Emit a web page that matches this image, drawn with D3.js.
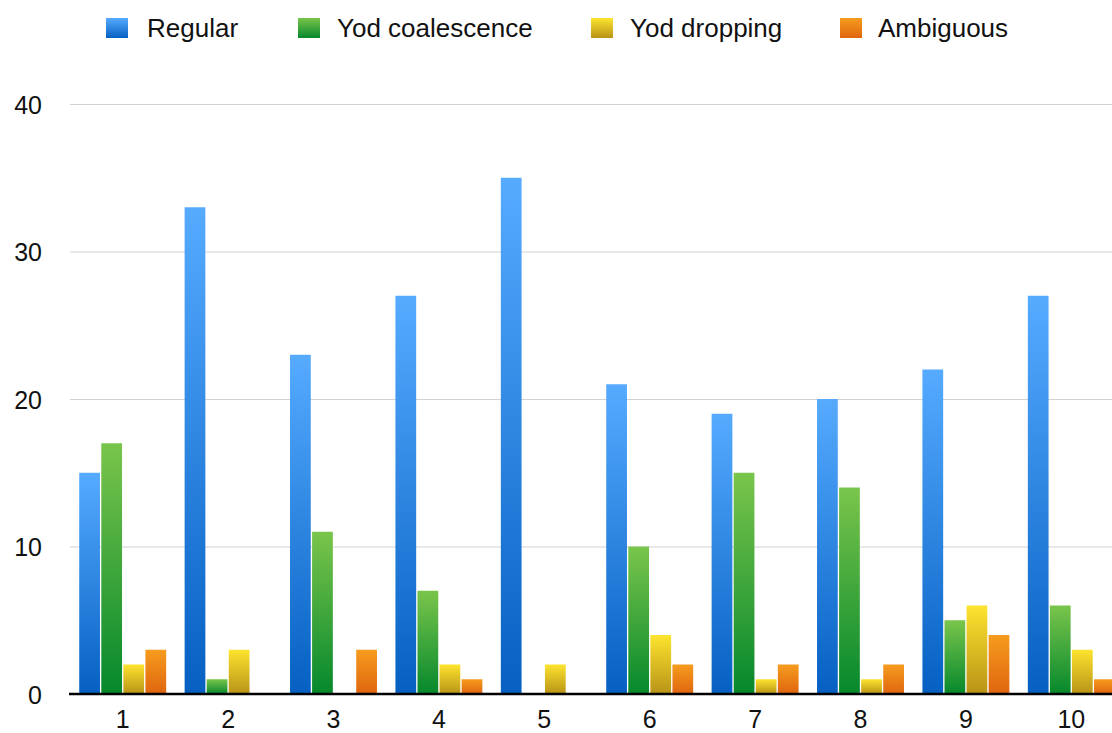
<!DOCTYPE html>
<html>
<head>
<meta charset="utf-8">
<script src="https://cdn.jsdelivr.net/npm/d3@7"></script>
<style>
  html, body { margin: 0; padding: 0; background: #fff; }
  svg { display: block; font-family: "Liberation Sans", Arial, Helvetica, sans-serif; }
</style>
</head>
<body>
<svg id="chart" width="1112" height="733"></svg>
<script>
// Word groups 1–10 and the count of each pronunciation type
const categories = ["1", "2", "3", "4", "5", "6", "7", "8", "9", "10"];
const seriesNames = ["Regular", "Yod coalescence", "Yod dropping", "Ambiguous"];
const regular        = [15, 33, 23, 27, 35, 21, 19, 20, 22, 27];
const yodCoalescence = [17, 1, 11, 7, 0, 10, 15, 14, 5, 6];
const yodDropping    = [2, 3, 0, 2, 2, 4, 1, 1, 6, 3];
const ambiguous      = [3, 0, 3, 1, 0, 2, 2, 2, 4, 1];
const yTicks = [0, 10, 20, 30, 40];

const seriesValues = [regular, yodCoalescence, yodDropping, ambiguous];
// top / bottom colours of each series' vertical gradient
const gradients = [
  ["#56abff", "#0560c2"],
  ["#7ac54b", "#05882c"],
  ["#fde42f", "#b89317"],
  ["#f69c1e", "#df650f"]
];

const svg = d3.select("#chart");
const margin = { left: 70, right: -12, top: 104, bottom: 39 };
const W = 1112, H = 733;

const x0 = d3.scaleBand()
  .domain(categories)
  .range([margin.left, W - margin.right])
  .paddingInner(0.175)
  .paddingOuter(0.0875);
const x1 = d3.scaleBand()
  .domain(seriesNames)
  .range([0, x0.bandwidth()])
  .paddingInner(0.06);
const y = d3.scaleLinear()
  .domain([0, 40])
  .range([H - margin.bottom, margin.top]);

const defs = svg.append("defs");
gradients.forEach((g, i) => {
  const lg = defs.append("linearGradient")
    .attr("id", "grad" + i)
    .attr("x1", 0).attr("y1", 0).attr("x2", 0).attr("y2", 1);
  lg.append("stop").attr("offset", "0%").attr("stop-color", g[0]);
  lg.append("stop").attr("offset", "100%").attr("stop-color", g[1]);
});

// horizontal gridlines and y labels
const yAxis = d3.axisLeft(y).tickValues(yTicks).tickSize(-(W - margin.left)).tickPadding(28);
const gy = svg.append("g")
  .attr("transform", `translate(${margin.left},0)`)
  .call(yAxis);
gy.select(".domain").remove();
gy.selectAll(".tick line").attr("stroke", "#d2d2d2").attr("stroke-width", 1.2);
gy.selectAll(".tick text")
  .attr("fill", "#111")
  .attr("font-size", 25)
  .attr("x", -28)
  .attr("dy", "0.36em");

// bars
const groups = svg.append("g").selectAll("g")
  .data(categories)
  .join("g")
  .attr("transform", d => `translate(${x0(d)},0)`);

groups.selectAll("rect")
  .data((d, ci) => seriesNames.map((s, si) => ({ s, si, v: seriesValues[si][ci] })))
  .join("rect")
  .filter(d => d.v > 0)
  .attr("x", d => x1(d.s))
  .attr("width", x1.bandwidth())
  .attr("y", d => y(d.v))
  .attr("height", d => y(0) - y(d.v))
  .attr("fill", d => `url(#grad${d.si})`);

// x axis baseline and labels
const xAxis = d3.axisBottom(x0).tickSize(0).tickPadding(16);
const gx = svg.append("g")
  .attr("transform", `translate(0,${y(0)})`)
  .call(xAxis);
gx.select(".domain").remove();
gx.append("line")
  .attr("x1", margin.left - 1).attr("x2", W)
  .attr("y1", 0).attr("y2", 0)
  .attr("stroke", "#000").attr("stroke-width", 2.5);
gx.selectAll(".tick text")
  .attr("fill", "#111")
  .attr("font-size", 25)
  .attr("dy", "0.71em");

// legend
const legendSwatchX = [106, 298, 591, 840];
const legendTextX = [147, 337, 630, 878];
const legend = svg.append("g").selectAll("g")
  .data(seriesNames)
  .join("g");
legend.append("rect")
  .attr("x", (d, i) => legendSwatchX[i]).attr("y", 18)
  .attr("width", 22).attr("height", 20)
  .attr("fill", (d, i) => `url(#grad${i})`);
legend.append("text")
  .attr("x", (d, i) => legendTextX[i]).attr("y", 37)
  .attr("font-size", 26)
  .attr("fill", "#111")
  .text(d => d);
</script>
</body>
</html>
